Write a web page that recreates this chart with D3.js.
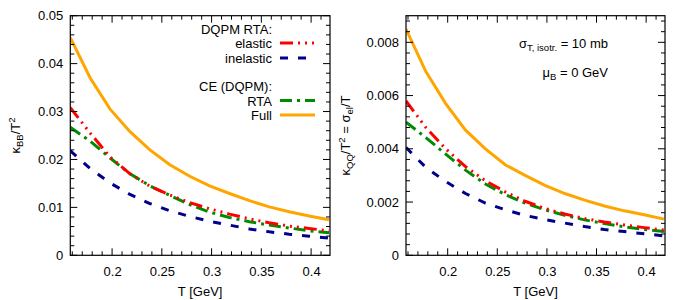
<!DOCTYPE html>
<html><head><meta charset="utf-8">
<script src="https://cdn.jsdelivr.net/npm/d3@7"></script>
<style>body{margin:0;background:#fff}text{font-family:"Liberation Sans",Arial,sans-serif;fill:#000}</style>
</head><body><svg id="c" width="700" height="300"></svg>
<script>
const T = [0.158,0.178,0.198,0.218,0.238,0.258,0.278,0.298,0.318,0.338,0.358,0.378,0.398,0.418];
// left panel: kappa_BB / T^2
const bbElastic   = [0.0308,0.0255,0.0205,0.0170,0.0144,0.0126,0.0110,0.0097,0.0086,0.0076,0.0068,0.0061,0.0056,0.0051];
const bbInelastic = [0.0218,0.0181,0.0151,0.0127,0.0108,0.0093,0.0081,0.0071,0.0063,0.0055,0.0049,0.0044,0.0040,0.0036];
const bbCeRta     = [0.0267,0.0238,0.0203,0.0170,0.0145,0.0125,0.0106,0.0090,0.0079,0.0070,0.0063,0.0057,0.0051,0.0047];
const bbFull      = [0.0454,0.0370,0.0305,0.0258,0.0220,0.0189,0.0165,0.0145,0.0129,0.0114,0.0101,0.0091,0.0082,0.0074];
// right panel: kappa_QQ / T^2 = sigma_el / T
const qqElastic   = [0.0058,0.0048,0.0040,0.00333,0.00280,0.00238,0.00203,0.00176,0.00155,0.00138,0.00125,0.00114,0.00104,0.00095];
const qqInelastic = [0.00405,0.00330,0.00277,0.00232,0.00196,0.00171,0.00150,0.00134,0.00121,0.00108,0.00097,0.00089,0.00081,0.00073];
const qqCeRta     = [0.0050,0.00442,0.00380,0.00320,0.00268,0.00228,0.00196,0.00171,0.00150,0.00133,0.00119,0.00107,0.00097,0.00089];
const qqFull      = [0.0085,0.0069,0.0057,0.0047,0.0040,0.0034,0.0030,0.00263,0.00232,0.00207,0.00185,0.00167,0.00152,0.00136];
const xTicks = [0.2,0.25,0.3,0.35,0.4];
const bbTicks = [0,0.01,0.02,0.03,0.04,0.05];
const qqTicks = [0,0.002,0.004,0.006,0.008];

const styles = {
  elastic:   {color:"#ff0000", dash:"13,5,2,5,2,5,2,5"},
  inelastic: {color:"#00008b", dash:"8,10"},
  ceRta:     {color:"#008c00", dash:"12,5,3,5"},
  full:      {color:"#ffa500", dash:null}
};

const svg = d3.select("#c");

function panel(x0, x1, yMax, yTicks, yMinorStep, series, fmt) {
  const x = d3.scaleLinear().domain([0.158,0.419]).range([x0,x1]);
  const y = d3.scaleLinear().domain([0,yMax]).range([255.3,15.7]);
  const g = svg.append("g");
  const clipId = "clip"+Math.round(x0);
  g.append("clipPath").attr("id",clipId).append("rect")
    .attr("x",x0).attr("y",15.7).attr("width",x1-x0).attr("height",255.3-15.7);
  const line = d3.line().x((d,i)=>x(T[i])).y(d=>y(d));
  const lg = g.append("g").attr("clip-path",`url(#${clipId})`);
  series.forEach(s=>{
    lg.append("path").attr("d",line(s.values)).attr("fill","none")
      .attr("stroke",styles[s.key].color).attr("stroke-width",3)
      .attr("stroke-dasharray",styles[s.key].dash);
  });
  // minor ticks
  const xMinor = d3.range(0.16,0.4195,0.01);
  const yMinor = d3.range(0,yMax+1e-9,yMinorStep);
  const tg = g.append("g").attr("stroke","#000").attr("stroke-width",1);
  xMinor.forEach(v=>{
    const major = xTicks.some(t=>Math.abs(t-v)<1e-6);
    const L = major?7:4;
    tg.append("line").attr("x1",x(v)).attr("x2",x(v)).attr("y1",255.3).attr("y2",255.3-L);
    tg.append("line").attr("x1",x(v)).attr("x2",x(v)).attr("y1",15.7).attr("y2",15.7+L);
  });
  yMinor.forEach(v=>{
    const major = yTicks.some(t=>Math.abs(t-v)<1e-9);
    const L = major?7:4;
    tg.append("line").attr("x1",x0).attr("x2",x0+L).attr("y1",y(v)).attr("y2",y(v));
    tg.append("line").attr("x1",x1).attr("x2",x1-L).attr("y1",y(v)).attr("y2",y(v));
  });
  g.append("rect").attr("x",x0).attr("y",15.7).attr("width",x1-x0).attr("height",255.3-15.7)
    .attr("fill","none").attr("stroke","#000").attr("stroke-width",1.2);
  const xa = g.append("g").attr("transform","translate(0,255.3)")
    .call(d3.axisBottom(x).tickValues(xTicks).tickSize(0).tickPadding(11).tickFormat(d3.format("~g")));
  xa.select(".domain").remove();
  xa.selectAll("text").attr("font-size",13).style("font-family","Liberation Sans, Arial, sans-serif");
  const ya = g.append("g").attr("transform",`translate(${x0},0)`)
    .call(d3.axisLeft(y).tickValues(yTicks).tickSize(0).tickPadding(7).tickFormat(fmt));
  ya.select(".domain").remove();
  ya.selectAll("text").attr("font-size",13).style("font-family","Liberation Sans, Arial, sans-serif");
  g.append("text").attr("x",(x0+x1)/2).attr("y",296).attr("text-anchor","middle")
    .attr("font-size",13).text("T [GeV]");
  return {x,y,g};
}

const fmtL = v=> v===0?"0":d3.format(".2f")(v);
const fmtR = v=> v===0?"0":d3.format(".3f")(v);

panel(70.3,330,0.05,bbTicks,0.002,[
  {key:"full",values:bbFull},{key:"inelastic",values:bbInelastic},
  {key:"ceRta",values:bbCeRta},{key:"elastic",values:bbElastic}],fmtL);
panel(406,665,0.009,qqTicks,0.0004,[
  {key:"full",values:qqFull},{key:"inelastic",values:qqInelastic},
  {key:"ceRta",values:qqCeRta},{key:"elastic",values:qqElastic}],fmtR);

// y labels
const yl1 = svg.append("text").attr("transform","translate(20,135.5) rotate(-90)")
  .attr("text-anchor","middle").attr("font-size",13);
yl1.append("tspan").text("κ");
yl1.append("tspan").attr("font-size",9.5).attr("dy",3).text("BB");
yl1.append("tspan").attr("dy",-3).text("/T");
yl1.append("tspan").attr("font-size",9.5).attr("dy",-5).text("2");

const yl2 = svg.append("text").attr("transform","translate(350,135.5) rotate(-90)")
  .attr("text-anchor","middle").attr("font-size",13);
yl2.append("tspan").text("κ");
yl2.append("tspan").attr("font-size",9.5).attr("dy",3).text("QQ");
yl2.append("tspan").attr("dy",-3).text("/T");
yl2.append("tspan").attr("font-size",9.5).attr("dy",-5).text("2");
yl2.append("tspan").attr("dy",5).text(" = σ");
yl2.append("tspan").attr("font-size",9.5).attr("dy",3).text("el");
yl2.append("tspan").attr("dy",-3).text("/T");

// legend
const legend = [
  {label:"DQPM RTA:", y:34, key:null},
  {label:"elastic", y:48, key:"elastic"},
  {label:"inelastic", y:63, key:"inelastic"},
  {label:"CE (DQPM):", y:91, key:null},
  {label:"RTA", y:105.5, key:"ceRta"},
  {label:"Full", y:120, key:"full"}
];
legend.forEach(e=>{
  svg.append("text").attr("x",272).attr("y",e.y).attr("text-anchor","end")
    .attr("font-size",13).text(e.label);
  if(e.key){
    svg.append("line").attr("x1",280).attr("x2",315).attr("y1",e.y-5).attr("y2",e.y-5)
      .attr("stroke",styles[e.key].color).attr("stroke-width",3)
      .attr("stroke-dasharray",styles[e.key].dash);
  }
});

// annotations right
const a1 = svg.append("text").attr("x",608).attr("y",48).attr("text-anchor","end").attr("font-size",13);
a1.append("tspan").text("σ");
a1.append("tspan").attr("font-size",9.5).attr("dy",3).text("T, isotr.");
a1.append("tspan").attr("dy",-3).text(" = 10 mb");
const a2 = svg.append("text").attr("x",608).attr("y",77).attr("text-anchor","end").attr("font-size",13);
a2.append("tspan").text("μ");
a2.append("tspan").attr("font-size",9.5).attr("dy",3).text("B");
a2.append("tspan").attr("dy",-3).text(" = 0 GeV");
</script></body></html>
